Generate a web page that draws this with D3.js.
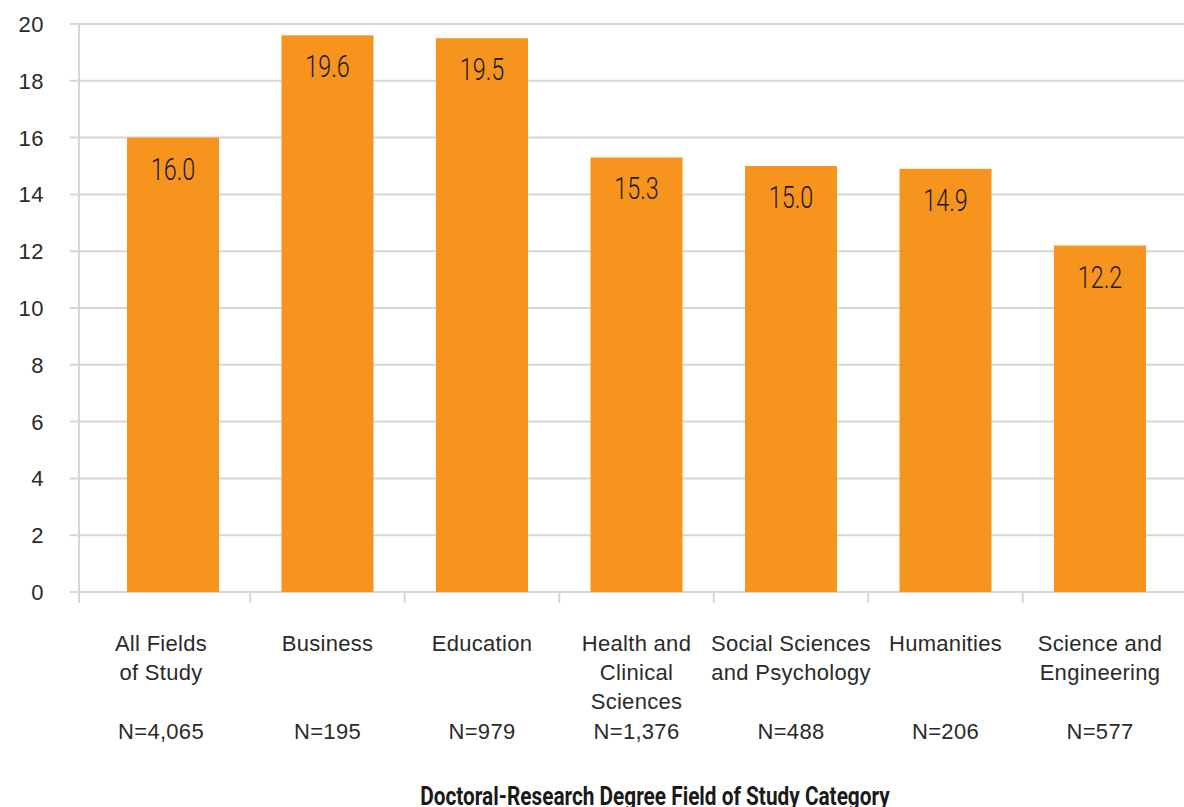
<!DOCTYPE html>
<html>
<head>
<meta charset="utf-8">
<script src="https://cdn.jsdelivr.net/npm/d3@7"></script>
<style>
  html, body { margin: 0; padding: 0; background: #fff; }
  svg { display: block; }
</style>
</head>
<body>
<svg id="chart" width="1184" height="807"></svg>
<script>
// Field of study categories (each label split into lines)
const categories = [
  ["All Fields", "of Study"],
  ["Business"],
  ["Education"],
  ["Health and", "Clinical", "Sciences"],
  ["Social Sciences", "and Psychology"],
  ["Humanities"],
  ["Science and", "Engineering"]
];
const sampleSizes = ["N=4,065", "N=195", "N=979", "N=1,376", "N=488", "N=206", "N=577"];
const values = [16.0, 19.6, 19.5, 15.3, 15.0, 14.9, 12.2];
const yTicks = [0, 2, 4, 6, 8, 10, 12, 14, 16, 18, 20];
const axisTitle = "Doctoral-Research Degree Field of Study Category";

const svg = d3.select("#chart");
const keys = categories.map((c, i) => i);

const y = d3.scaleLinear().domain([0, 20]).range([592, 24]);
const x = d3.scaleBand()
  .domain(keys)
  .range([95.75, 1177.25])
  .paddingInner(0.4045)
  .paddingOuter(0.20225);

const gridColor = "#d6d6d6";

// Horizontal gridlines
svg.append("g")
  .selectAll("line")
  .data(yTicks)
  .join("line")
  .attr("x1", 70).attr("x2", 1184)
  .attr("y1", d => y(d)).attr("y2", d => y(d))
  .attr("stroke", gridColor)
  .attr("stroke-width", 2);

// Vertical axis line
svg.append("line")
  .attr("x1", 79).attr("x2", 79)
  .attr("y1", y(20)).attr("y2", y(0) + 11)
  .attr("stroke", gridColor)
  .attr("stroke-width", 2);

// Category separator ticks on the baseline
const step = x.step();
svg.append("g")
  .selectAll("line")
  .data(keys.slice(1))
  .join("line")
  .attr("x1", d => x(d) - (step - x.bandwidth()) / 2)
  .attr("x2", d => x(d) - (step - x.bandwidth()) / 2)
  .attr("y1", y(0)).attr("y2", y(0) + 11)
  .attr("stroke", gridColor)
  .attr("stroke-width", 2);

// Y tick labels
svg.append("g")
  .selectAll("text")
  .data(yTicks)
  .join("text")
  .attr("x", 44)
  .attr("y", d => y(d))
  .attr("dy", "0.36em")
  .attr("text-anchor", "end")
  .attr("font-family", "Liberation Sans, Arial, sans-serif")
  .attr("font-size", 22)
  .attr("letter-spacing", 0.5)
  .attr("fill", "#2a2a2a")
  .text(d => d);

// Bars
svg.append("g")
  .selectAll("rect")
  .data(values)
  .join("rect")
  .attr("x", (d, i) => x(i))
  .attr("width", x.bandwidth())
  .attr("y", d => y(d))
  .attr("height", d => y(0) - y(d))
  .attr("fill", "#F7941E");

// Value labels inside bars (condensed)
svg.append("g")
  .selectAll("text")
  .data(values)
  .join("text")
  .attr("transform", (d, i) => `translate(${x(i) + x.bandwidth() / 2},${y(d) + 42}) scale(0.73,1)`)
  .attr("text-anchor", "middle")
  .attr("font-family", "Roboto, Liberation Sans, sans-serif")
  .attr("font-weight", 300)
  .attr("font-size", 32)
  .attr("fill", "#1a1a1a")
  .text(d => d.toFixed(1));

// Category labels
const labelG = svg.append("g")
  .attr("font-family", "Liberation Sans, Arial, sans-serif")
  .attr("font-size", 22)
  .attr("letter-spacing", 0.3)
  .attr("fill", "#2a2a2a")
  .attr("text-anchor", "middle");

categories.forEach((lines, i) => {
  const cx = x(i) + x.bandwidth() / 2 - (i === 0 ? 12 : 0);
  lines.forEach((ln, j) => {
    labelG.append("text")
      .attr("x", cx)
      .attr("y", 651 + j * 29)
      .text(ln);
  });
  labelG.append("text")
    .attr("x", cx)
    .attr("y", 739)
    .text(sampleSizes[i]);
});

// Axis title
svg.append("text")
  .attr("transform", "translate(655,805) scale(0.8,1)")
  .attr("text-anchor", "middle")
  .attr("font-family", "Roboto, Liberation Sans, sans-serif")
  .attr("font-weight", 700)
  .attr("font-size", 26)
  .attr("fill", "#1a1a1a")
  .text(axisTitle);
</script>
</body>
</html>
